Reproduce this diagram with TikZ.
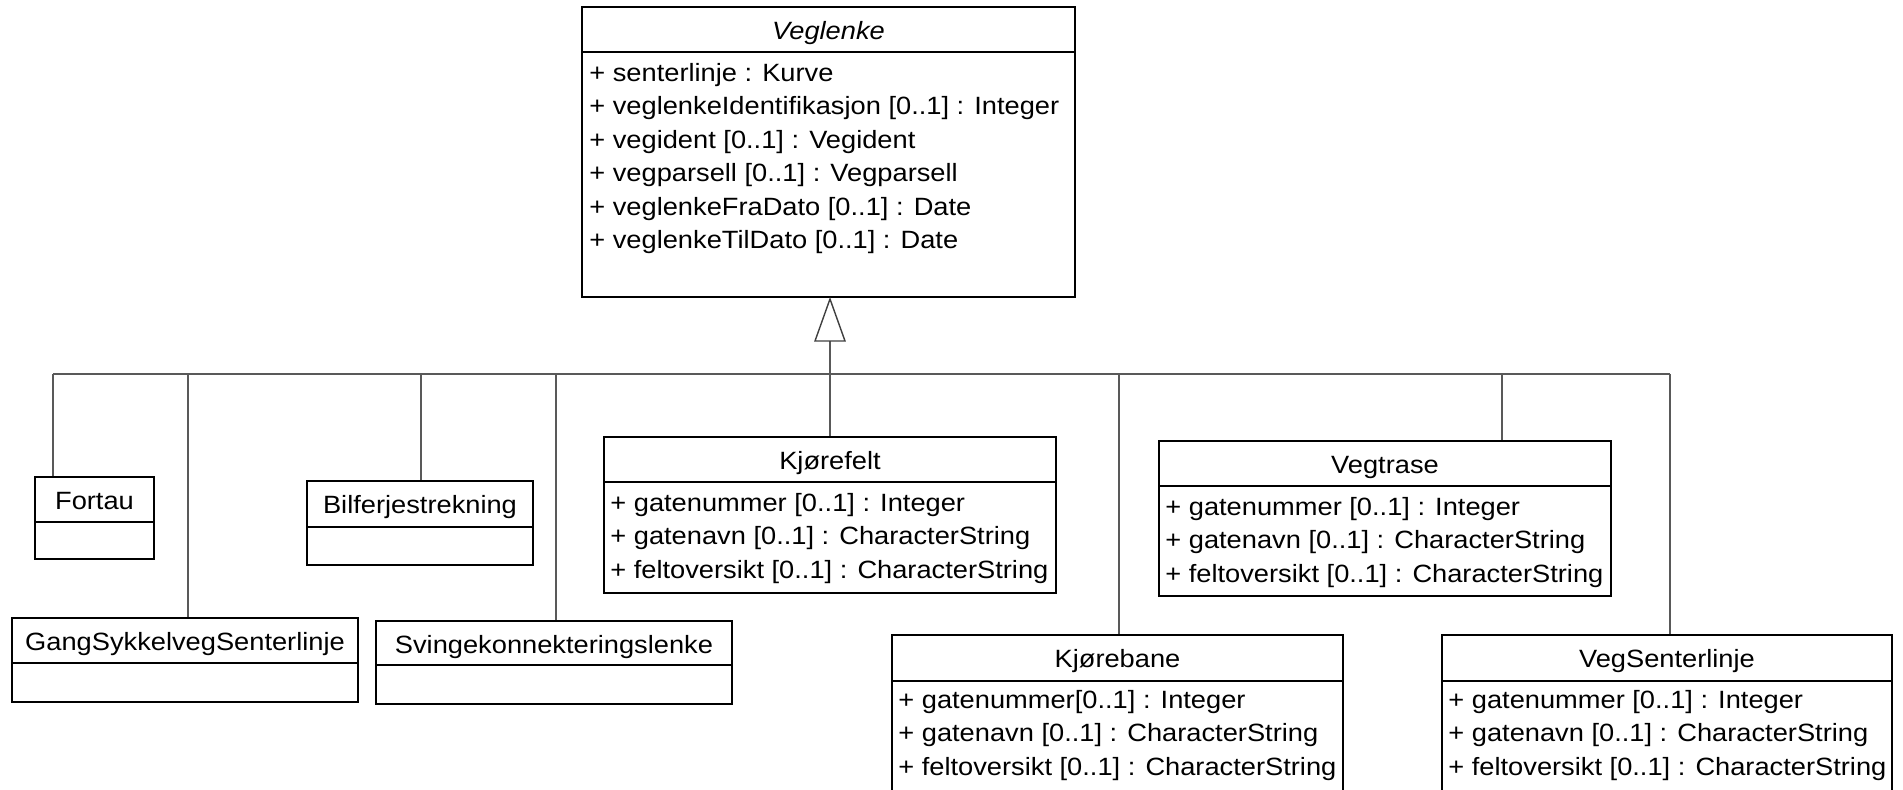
\documentclass[tikz,border=0pt]{standalone}
\usepackage{fontspec}
\setmainfont{Liberation Sans}[FakeStretch=1.09]
\usetikzlibrary{fit}
\begin{document}
\begin{tikzpicture}[x=0.5pt,y=-0.5pt,
  box/.style={draw=black, line width=0.75pt, inner sep=0pt},
  conn/.style={draw=black!65, line width=0.8pt},
  ttl/.style={anchor=base, inner sep=0pt, font=\fontsize{12.5}{15}\selectfont},
  attr/.style={anchor=base west, inner sep=0pt, font=\fontsize{12.5}{15}\selectfont}]
\useasboundingbox (0,0) rectangle (1903,790);
\clip (0,0) rectangle (1903,790);

% Veglenke
\node[box, fit={(582,7)(1075,52)}] (vegT) {};
\node[box, fit={(582,52)(1075,297)}] (vegA) {};
\node[ttl] (vegN) at (828.5,40) {\itshape Veglenke};
\foreach \t [count=\i] in {{+ senterlinje : Kurve},{+ veglenkeIdentifikasjon [0..1] : Integer},{+ vegident [0..1] : Vegident},{+ vegparsell [0..1] : Vegparsell},{+ veglenkeFraDato [0..1] : Date},{+ veglenkeTilDato [0..1] : Date}}
  \node[attr] (vegA\i) at (589,48+33.5*\i) {\t};

% Fortau
\node[box, fit={(35,477)(154,522)}] (fortT) {};
\node[box, fit={(35,522)(154,559)}] (fortA) {};
\node[ttl] (fortN) at (94.5,510) {Fortau};

% Bilferjestrekning
\node[box, fit={(307,481)(533,527)}] (bilT) {};
\node[box, fit={(307,527)(533,565)}] (bilA) {};
\node[ttl] (bilN) at (420,514) {Bilferjestrekning};

% GangSykkelvegSenterlinje
\node[box, fit={(12,618)(358,663)}] (gangT) {};
\node[box, fit={(12,663)(358,702)}] (gangA) {};
\node[ttl] (gangN) at (185,651) {GangSykkelvegSenterlinje};

% Svingekonnekteringslenke
\node[box, fit={(376,621)(732,665)}] (svT) {};
\node[box, fit={(376,665)(732,704)}] (svA) {};
\node[ttl] (svN) at (554,654) {Svingekonnekteringslenke};

% Kjorefelt
\node[box, fit={(604,437)(1056,482)}] (kjfT) {};
\node[box, fit={(604,482)(1056,593)}] (kjfA) {};
\node[ttl] (kjfN) at (830,470) {Kjørefelt};
\foreach \t [count=\i] in {{+ gatenummer [0..1] : Integer},{+ gatenavn [0..1] : CharacterString},{+ feltoversikt [0..1] : CharacterString}}
  \node[attr] (kjfA\i) at (610,478+33.5*\i) {\t};

% Vegtrase
\node[box, fit={(1159,441)(1611,486)}] (vtT) {};
\node[box, fit={(1159,486)(1611,596)}] (vtA) {};
\node[ttl] (vtN) at (1385,474) {Vegtrase};
\foreach \t [count=\i] in {{+ gatenummer [0..1] : Integer},{+ gatenavn [0..1] : CharacterString},{+ feltoversikt [0..1] : CharacterString}}
  \node[attr] (vtA\i) at (1165,482+33.5*\i) {\t};

% Kjorebane
\node[box, fit={(892,635)(1343,681)}] (kjbT) {};
\node[box, fit={(892,681)(1343,800)}] (kjbA) {};
\node[ttl] (kjbN) at (1117.5,668) {Kjørebane};
\foreach \t [count=\i] in {{+ gatenummer[0..1] : Integer},{+ gatenavn [0..1] : CharacterString},{+ feltoversikt [0..1] : CharacterString}}
  \node[attr] (kjbA\i) at (898,675+33.5*\i) {\t};

% VegSenterlinje
\node[box, fit={(1442,635)(1892,681)}] (vsT) {};
\node[box, fit={(1442,681)(1892,800)}] (vsA) {};
\node[ttl] (vsN) at (1667,668) {VegSenterlinje};
\foreach \t [count=\i] in {{+ gatenummer [0..1] : Integer},{+ gatenavn [0..1] : CharacterString},{+ feltoversikt [0..1] : CharacterString}}
  \node[attr] (vsA\i) at (1448,675+33.5*\i) {\t};

% generalization connectors
\coordinate (tip) at (830,299);
\coordinate (tribase) at (830,341);
\coordinate (busL) at (53,374);
\coordinate (busR) at (1670,374);
\coordinate (b2) at (188,374);
\coordinate (b3) at (421,374);
\coordinate (b4) at (556,374);
\coordinate (b6) at (1119,374);
\coordinate (b7) at (1502,374);
\draw[conn] (busL) -- (busR);
\draw[conn] (busL) -- (busL |- fortT.north);
\draw[conn] (b2) -- (b2 |- gangT.north);
\draw[conn] (b3) -- (b3 |- bilT.north);
\draw[conn] (b4) -- (b4 |- svT.north);
\draw[conn] (tribase) -- (tribase |- kjfT.north);
\draw[conn] (b6) -- (b6 |- kjbT.north);
\draw[conn] (b7) -- (b7 |- vtT.north);
\draw[conn] (busR) -- (busR |- vsT.north);
\draw[draw=black!75, line width=0.7pt, fill=white] (tip) -- ++(15,42) -- ++(-30,0) -- cycle;
\end{tikzpicture}
\end{document}
